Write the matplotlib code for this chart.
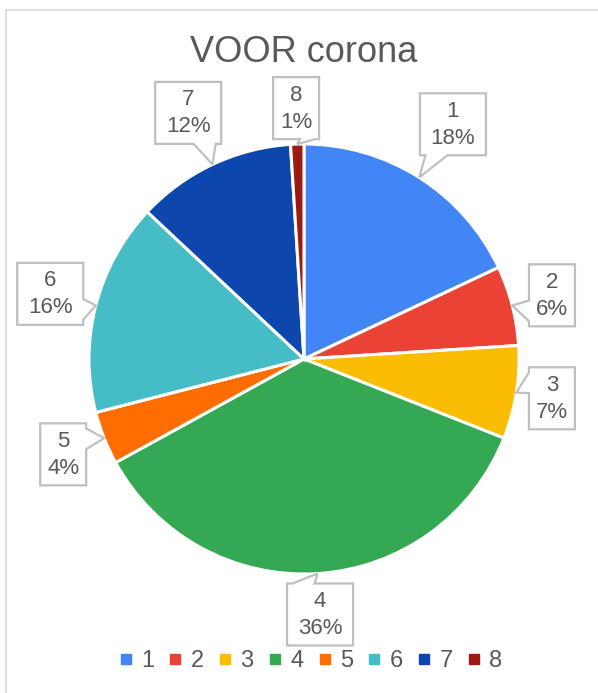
import numpy as np
import matplotlib
matplotlib.use("Agg")
import matplotlib.pyplot as plt
from matplotlib.patches import Polygon, Rectangle
from matplotlib.lines import Line2D

plt.rcParams['font.family'] = ['Liberation Sans', 'DejaVu Sans']

# ---- data ----
categories = ['1', '2', '3', '4', '5', '6', '7', '8']
values = [18, 6, 7, 36, 4, 16, 12, 1]
colors = ['#4285F4', '#EA4335', '#FBBC04', '#34A853', '#FF6D01', '#46BDC6', '#0D47AE', '#9C1C13']
title = 'VOOR corona'

# ---- layout (pixels) ----
W, H = 598, 693
CX, CY, R = 304, 359, 215
label_radius = [278, 256, 251, 256, 259, 262, 272, 251]
TXT = '#595959'
EDGE = '#BFBFBF'

fig = plt.figure(figsize=(W / 100, H / 100), dpi=100)
ax = fig.add_axes([0, 0, 1, 1])
ax.set_xlim(0, W)
ax.set_ylim(0, H)
ax.set_aspect('equal')
ax.axis('off')

def Y(py):
    return H - py

# outer frame
ax.add_patch(Rectangle((6, Y(H + 20)), W + 20, H + 10, fill=False, edgecolor='#D9D9D9', lw=1.2))

ax.pie(values, colors=colors, startangle=90, counterclock=False, radius=R,
       center=(CX, Y(CY)), wedgeprops=dict(edgecolor='white', linewidth=2.2))
ax.set_xlim(0, W)
ax.set_ylim(0, H)

ax.text(CX, Y(52), title, ha='center', va='center', fontsize=26, color=TXT)

total = sum(values)
cum = 0
for i, v in enumerate(values):
    mid = 90 - (cum + v / 2) / total * 360
    cum += v
    a = np.deg2rad(mid)
    tip = (CX + R * np.cos(a), CY - R * np.sin(a))
    bx = CX + label_radius[i] * np.cos(a)
    by = CY - label_radius[i] * np.sin(a)
    pct = f"{round(v / total * 100)}%"
    w = 20 * len(pct) + 6
    h = 62
    l, r_, t, b = bx - w / 2, bx + w / 2, by - h / 2, by + h / 2
    dx, dy = tip[0] - bx, tip[1] - by
    if abs(dx) / w > abs(dy) / h:
        y1, y2 = (t + h * 7 / 12, t + h * 11 / 12) if dy > 0 else (t + h / 12, t + h * 5 / 12)
        if dx < 0:  # left side
            pts = [(l, t), (r_, t), (r_, b), (l, b), (l, y2), tip, (l, y1)]
        else:  # right side
            pts = [(l, t), (r_, t), (r_, y1), tip, (r_, y2), (r_, b), (l, b)]
    else:
        x1, x2 = (l + w * 7 / 12, l + w * 11 / 12) if dx > 0 else (l + w / 12, l + w * 5 / 12)
        if dy > 0:  # bottom side
            pts = [(l, t), (r_, t), (r_, b), (x2, b), tip, (x1, b), (l, b)]
        else:  # top side
            pts = [(l, t), (x1, t), tip, (x2, t), (r_, t), (r_, b), (l, b)]
    poly = Polygon([(p[0], Y(p[1])) for p in pts], closed=True, facecolor='white',
                   edgecolor=EDGE, lw=1.6, zorder=5, joinstyle='miter')
    ax.add_patch(poly)
    ax.text(bx, Y(by - 13), categories[i], ha='center', va='center', fontsize=16, color=TXT, zorder=6)
    ax.text(bx, Y(by + 14), pct, ha='center', va='center', fontsize=16, color=TXT, zorder=6)

handles = [Line2D([0], [0], marker='s', linestyle='none', markersize=6.5,
                  markerfacecolor=c, markeredgecolor=c) for c in colors]
fig.legend(handles, categories, loc='center', bbox_to_anchor=(310 / W, 1 - 661 / H),
           ncol=8, frameon=False, fontsize=17, handlelength=0.7, handletextpad=0.3,
           columnspacing=0.55, labelcolor=TXT)

fig.savefig('out.png', dpi=100)
